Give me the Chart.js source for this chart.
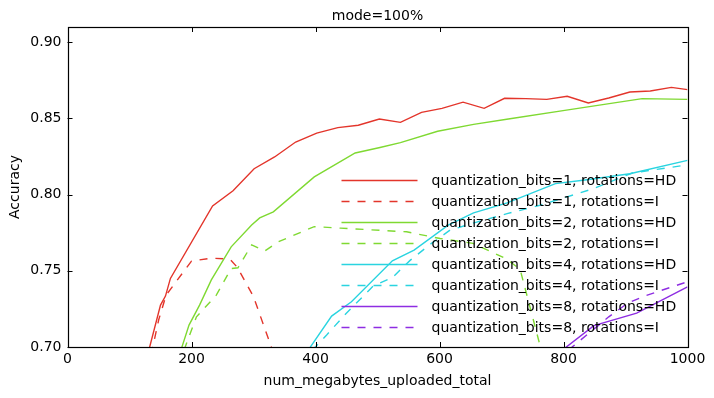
<!DOCTYPE html>
<html>
<head>
<meta charset="utf-8">
<script src="https://cdn.jsdelivr.net/npm/chart.js@4"></script>
<style>
  html, body { margin: 0; padding: 0; background: #fff; }
  canvas { display: block; }
</style>
</head>
<body>
<canvas id="chart" width="714" height="398"></canvas>
<script>
// chart text
const chartTitle = 'mode=100%';
const xTitle = 'num_megabytes_uploaded_total';
const yTitle = 'Accuracy';

// ticks
const xTicks = [0, 200, 400, 600, 800, 1000];
const yTicks = [0.70, 0.75, 0.80, 0.85, 0.90];

// series labels
const labels = [
    'quantization_bits=1, rotations=HD',
    'quantization_bits=1, rotations=I',
    'quantization_bits=2, rotations=HD',
    'quantization_bits=2, rotations=I',
    'quantization_bits=4, rotations=HD',
    'quantization_bits=4, rotations=I',
    'quantization_bits=8, rotations=HD',
    'quantization_bits=8, rotations=I'
];

// bits=1, HD
const q1hdX = [130, 150, 158, 166, 234, 267, 301, 334, 368, 402, 436, 469, 503, 537, 571, 604, 638, 672, 705, 739, 773, 806, 840, 873, 907, 940, 974, 1000];
const q1hdY = [0.696, 0.7275, 0.7334, 0.745, 0.7926, 0.8025, 0.817, 0.8247, 0.8345, 0.8404, 0.844, 0.8455, 0.8496, 0.8474, 0.854, 0.8566, 0.8607, 0.8566, 0.8632, 0.863, 0.8625, 0.8645, 0.8601, 0.8634, 0.8673, 0.868, 0.8704, 0.8689];

// bits=1, I
const q1iX = [135, 147, 159, 200, 232, 262, 274, 300, 334];
const q1iY = [0.695, 0.7177, 0.734, 0.7564, 0.7583, 0.7577, 0.7522, 0.733, 0.694];

// bits=2, HD
const q2hdX = [183, 196, 213, 232, 264, 297, 310, 332, 398, 464, 504, 537, 597, 655, 711, 802, 927, 1000];
const q2hdY = [0.698, 0.7144, 0.7275, 0.744, 0.7657, 0.780, 0.7847, 0.7887, 0.8116, 0.8273, 0.8309, 0.8341, 0.8416, 0.8461, 0.8496, 0.8553, 0.863, 0.8625];

// bits=2, I
const q2iX = [188, 208, 240, 264, 275, 297, 318, 340, 398, 440, 547, 601, 654, 707, 730, 766];
const q2iY = [0.698, 0.7198, 0.734, 0.7515, 0.752, 0.767, 0.763, 0.769, 0.779, 0.778, 0.7756, 0.7712, 0.768, 0.758, 0.751, 0.695];

// bits=4, HD
const q4hdX = [385, 426, 458, 524, 559, 614, 655, 709, 787, 838, 907, 1000];
const q4hdY = [0.696, 0.7203, 0.7297, 0.7566, 0.7636, 0.780, 0.788, 0.7946, 0.8072, 0.8098, 0.8137, 0.8225];

// bits=4, I
const q4iX = [395, 418, 447, 493, 524, 553, 587, 617, 660, 709, 762, 849, 911, 1000];
const q4iY = [0.698, 0.7079, 0.721, 0.740, 0.7456, 0.757, 0.768, 0.7767, 0.782, 0.7875, 0.793, 0.804, 0.8142, 0.8195];

// bits=8, HD
const q8hdX = [795, 849, 918, 1000];
const q8hdY = [0.697, 0.714, 0.7222, 0.7395];

// bits=8, I
const q8iX = [808, 873, 903, 930, 1000];
const q8iY = [0.698, 0.7198, 0.7286, 0.7334, 0.7428];

const colors = ['#e3352b', '#7fd932', '#2ad4e0', '#8e2de2'];
const FONT = "'DejaVu Sans', sans-serif";

function pts(xs, ys) {
    return xs.map((x, i) => ({ x: x, y: ys[i] }));
}

const series = [
    [q1hdX, q1hdY], [q1iX, q1iY],
    [q2hdX, q2hdY], [q2iX, q2iY],
    [q4hdX, q4hdY], [q4iX, q4iY],
    [q8hdX, q8hdY], [q8iX, q8iY]
];

const datasets = series.map((s, i) => ({
    label: labels[i],
    data: pts(s[0], s[1]),
    borderColor: colors[Math.floor(i / 2)],
    backgroundColor: colors[Math.floor(i / 2)],
    borderWidth: 1.4,
    borderDash: i % 2 ? [8, 8] : [],
    pointRadius: 0,
    tension: 0,
    fill: false,
    order: 8 - i
}));

// frame, inward ticks, title and legend
const decorPlugin = {
    id: 'decor',
    afterDraw(chart) {
        const { ctx, chartArea: a, scales } = chart;
        ctx.save();
        ctx.strokeStyle = '#000';
        ctx.lineWidth = 1;
        ctx.setLineDash([]);

        // inward ticks on all four sides
        ctx.beginPath();
        xTicks.forEach(v => {
            const px = Math.round(scales.x.getPixelForValue(v)) + 0.5;
            ctx.moveTo(px, a.bottom); ctx.lineTo(px, a.bottom - 5);
            ctx.moveTo(px, a.top); ctx.lineTo(px, a.top + 5);
        });
        yTicks.forEach(v => {
            const py = Math.round(scales.y.getPixelForValue(v)) + 0.5;
            ctx.moveTo(a.left, py); ctx.lineTo(a.left + 5, py);
            ctx.moveTo(a.right, py); ctx.lineTo(a.right - 5, py);
        });
        ctx.stroke();

        // frame
        ctx.lineWidth = 1.2;
        ctx.strokeRect(Math.round(a.left) + 0.5, Math.round(a.top) + 0.5,
            Math.round(a.right - a.left), Math.round(a.bottom - a.top));

        // title
        ctx.fillStyle = '#000';
        ctx.font = '14px ' + FONT;
        ctx.textAlign = 'center';
        ctx.textBaseline = 'middle';
        ctx.fillText(chartTitle, (a.left + a.right) / 2, 16);

        // legend, no frame, inside the axes
        const lx = a.right - 346;
        const ly = a.top + 152.5;
        ctx.textAlign = 'left';
        chart.data.datasets.forEach((ds, i) => {
            const y = Math.round(ly + i * 21.1);
            ctx.strokeStyle = colors[Math.floor(i / 2)];
            ctx.lineWidth = 1.5;
            ctx.setLineDash(i % 2 ? [8, 8] : []);
            ctx.beginPath();
            ctx.moveTo(lx, y + 0.5);
            ctx.lineTo(lx + 76, y + 0.5);
            ctx.stroke();
            ctx.setLineDash([]);
            ctx.fillStyle = '#000';
            ctx.fillText(ds.label, lx + 90, y + 1);
        });
        ctx.restore();
    }
};

new Chart(document.getElementById('chart'), {
    type: 'line',
    data: { datasets: datasets },
    options: {
        responsive: false,
        animation: false,
        devicePixelRatio: 1,
        layout: { padding: { top: 27, right: 26.5, left: 0, bottom: 0 } },
        plugins: {
            legend: { display: false },
            title: { display: false },
            tooltip: { enabled: false }
        },
        scales: {
            x: {
                type: 'linear',
                min: 0,
                max: 1000,
                afterBuildTicks: s => { s.ticks = xTicks.map(v => ({ value: v })); },
                afterFit: s => { s.height = 51; },
                grid: { display: true, drawOnChartArea: false, drawTicks: false },
                border: { display: false },
                ticks: {
                    color: '#000',
                    padding: 4,
                    maxRotation: 0,
                    font: { family: FONT, size: 14 },
                    callback: v => String(v)
                },
                title: {
                    display: true,
                    text: xTitle,
                    color: '#000',
                    font: { family: FONT, size: 14 },
                    padding: { top: 0, bottom: 8 }
                }
            },
            y: {
                type: 'linear',
                min: 0.70,
                max: 0.91,
                afterBuildTicks: s => { s.ticks = yTicks.map(v => ({ value: v })); },
                afterFit: s => { s.width = 67.5; },
                grid: { display: true, drawOnChartArea: false, drawTicks: false },
                border: { display: false },
                ticks: {
                    color: '#000',
                    padding: 6,
                    font: { family: FONT, size: 14 },
                    callback: v => v.toFixed(2)
                },
                title: {
                    display: true,
                    text: yTitle,
                    color: '#000',
                    font: { family: FONT, size: 14 },
                    padding: { top: 7, bottom: 0 }
                }
            }
        }
    },
    plugins: [decorPlugin]
});
</script>
</body>
</html>
